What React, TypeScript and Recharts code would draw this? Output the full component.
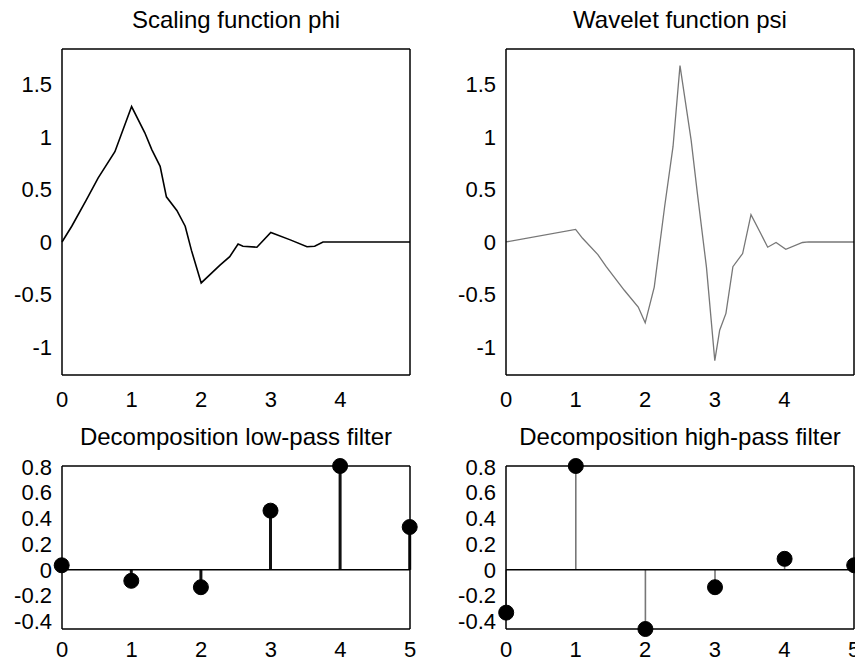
import React from 'react';
import { LineChart, ComposedChart, Line, Bar, XAxis, YAxis, ReferenceLine } from 'recharts';

// Scaling function phi (db3)
const phiX = [0, 0.14, 0.35, 0.52, 0.76, 1.0, 1.19, 1.29, 1.41, 1.5, 1.65, 1.77, 1.86, 2.0, 2.27, 2.41, 2.53, 2.6, 2.8, 3.0, 3.28, 3.52, 3.63, 3.75, 5.0];
const phiY = [0, 0.15, 0.4, 0.61, 0.86, 1.29, 1.04, 0.88, 0.72, 0.43, 0.3, 0.15, -0.08, -0.39, -0.22, -0.14, -0.02, -0.04, -0.05, 0.09, 0.02, -0.045, -0.04, 0, 0];

// Wavelet function psi
const psiX = [0, 1.0, 1.1, 1.32, 1.44, 1.7, 1.9, 2.0, 2.13, 2.28, 2.4, 2.5, 2.66, 2.75, 2.88, 3.0, 3.07, 3.16, 3.26, 3.4, 3.52, 3.66, 3.76, 3.88, 4.02, 4.26, 4.35, 5.0];
const psiY = [0, 0.12, 0.035, -0.12, -0.235, -0.46, -0.62, -0.77, -0.43, 0.34, 0.91, 1.68, 0.97, 0.46, -0.24, -1.13, -0.84, -0.68, -0.235, -0.11, 0.26, 0.08, -0.05, -0.005, -0.07, -0.005, 0, 0];

// Filters
const filterIdx = [0, 1, 2, 3, 4, 5];
const lowPass = [0.0352, -0.0854, -0.135, 0.4599, 0.8069, 0.3327];
const highPass = [-0.3327, 0.8069, -0.4599, -0.135, 0.0854, 0.0352];

// Axes
const topXTicks = [0, 1, 2, 3, 4];
const topYTicks = [-1, -0.5, 0, 0.5, 1, 1.5];
const topXDomain = [0, 5];
const topYDomain = [-1.267, 1.838];
const botXTicks = [0, 1, 2, 3, 4, 5];
const botYTicks = [-0.4, -0.2, 0, 0.2, 0.4, 0.6, 0.8];
const botXDomain = [0, 5];
const botYDomain = [-0.4599, 0.8069];

const titles = ['Scaling function phi', 'Wavelet function psi', 'Decomposition low-pass filter', 'Decomposition high-pass filter'];

const phiData = phiX.map((x, i) => ({ x, y: phiY[i] }));
const psiData = psiX.map((x, i) => ({ x, y: psiY[i] }));
const lowData = filterIdx.map((x, i) => ({ x, v: lowPass[i] }));
const highData = filterIdx.map((x, i) => ({ x, v: highPass[i] }));

const FONT = '"Liberation Sans", Arial, Helvetica, sans-serif';
const tickStyle = { fill: '#000', fontSize: 22, fontFamily: FONT };
const axisLineStyle = { stroke: '#000', strokeWidth: 1.5 };
const tickLineStyle = { stroke: '#000', strokeWidth: 1.2 };

function frame(xDomain: number[], xTicks: number[], yDomain: number[], yTicks: number[], xHeight: number, xMargin: number, dk: string) {
  return [
    <XAxis key="xb" xAxisId={0} type="number" dataKey="x" domain={xDomain} ticks={xTicks} interval={0}
      tickLine={false} tickSize={0} tickMargin={xMargin} axisLine={axisLineStyle} tick={tickStyle} height={xHeight} />,
    <YAxis key="yl" yAxisId={0} type="number" domain={yDomain} ticks={yTicks} interval={0}
      tickLine={false} tickSize={0} tickMargin={10} axisLine={axisLineStyle} tick={tickStyle} width={62} />,
    <XAxis key="xt" xAxisId="t" orientation="top" mirror type="number" dataKey="x" domain={xDomain} ticks={xTicks} interval={0} allowDataOverflow
      tick={false} tickLine={tickLineStyle} tickSize={5} axisLine={axisLineStyle} height={1} />,
    <XAxis key="xb2" xAxisId="b2" orientation="bottom" mirror type="number" dataKey="x" domain={xDomain} ticks={xTicks} interval={0} allowDataOverflow
      tick={false} tickLine={tickLineStyle} tickSize={5} axisLine={false} height={1} />,
    <YAxis key="yr" yAxisId="r" orientation="right" mirror type="number" domain={yDomain} ticks={yTicks} interval={0} allowDataOverflow
      tick={false} tickLine={tickLineStyle} tickSize={5} axisLine={axisLineStyle} width={1} />,
    <YAxis key="yl2" yAxisId="l2" orientation="left" mirror type="number" domain={yDomain} ticks={yTicks} interval={0} allowDataOverflow
      tick={false} tickLine={tickLineStyle} tickSize={5} axisLine={false} width={1} />,
    <Line key="h1" xAxisId="t" yAxisId="r" dataKey={dk} stroke="none" dot={false} activeDot={false} isAnimationActive={false} legendType="none" />,
    <Line key="h2" xAxisId="b2" yAxisId="l2" dataKey={dk} stroke="none" dot={false} activeDot={false} isAnimationActive={false} legendType="none" />,
  ];
}

function makeStem(color: string, w: number) {
  return (props: any) => {
    const { x, y, width, height, payload } = props;
    if (x == null || y == null) return null;
    const cx = x + (width || 0) / 2;
    const y1 = y;
    const y2 = y + (height || 0);
    const v = payload ? payload.v : 0;
    const my = v >= 0 ? Math.min(y1, y2) : Math.max(y1, y2);
    return (
      <g>
        <line x1={cx} x2={cx} y1={y1} y2={y2} stroke={color} strokeWidth={w} />
        <circle cx={cx} cy={my} r={7.5} fill="#000" stroke="#000" />
      </g>
    );
  };
}

export default function App() {
  return (
    <div style={{ position: 'absolute', left: 0, top: 0, width: 855, height: 661, background: '#fff', overflow: 'hidden' }}>
      <div style={{ position: 'absolute', left: 0, top: 0 }}>
        <LineChart width={430} height={420} data={phiData} margin={{ top: 49, right: 20, bottom: 0, left: 0 }}>
          {frame(topXDomain, topXTicks, topYDomain, topYTicks, 45, 16, 'y')}
          <Line type="linear" dataKey="y" stroke="#000" strokeWidth={1.6} dot={false} isAnimationActive={false} />
        </LineChart>
      </div>
      <div style={{ position: 'absolute', left: 444, top: 0 }}>
        <LineChart width={411} height={420} data={psiData} margin={{ top: 49, right: 1, bottom: 0, left: 0 }}>
          {frame(topXDomain, topXTicks, topYDomain, topYTicks, 45, 16, 'y')}
          <Line type="linear" dataKey="y" stroke="#777" strokeWidth={1.3} dot={false} isAnimationActive={false} />
        </LineChart>
      </div>
      <div style={{ position: 'absolute', left: 0, top: 420 }}>
        <ComposedChart width={430} height={241} data={lowData} margin={{ top: 46, right: 20, bottom: 0, left: 0 }}>
          {frame(botXDomain, botXTicks, botYDomain, botYTicks, 32, 12, 'v')}
          <ReferenceLine y={0} stroke="#000" strokeWidth={1.5} />
          <Bar dataKey="v" barSize={3} shape={makeStem('#111', 3)} isAnimationActive={false} />
        </ComposedChart>
      </div>
      <div style={{ position: 'absolute', left: 444, top: 420 }}>
        <ComposedChart width={411} height={241} data={highData} margin={{ top: 46, right: 1, bottom: 0, left: 0 }}>
          {frame(botXDomain, botXTicks, botYDomain, botYTicks, 32, 12, 'v')}
          <ReferenceLine y={0} stroke="#000" strokeWidth={1.5} />
          <Bar dataKey="v" barSize={2} shape={makeStem('#777', 1.6)} isAnimationActive={false} />
        </ComposedChart>
      </div>
      <svg width={855} height={661} style={{ position: 'absolute', left: 0, top: 0, pointerEvents: 'none' }}>
        <text x={236} y={28} textAnchor="middle" fontSize={24} fontFamily={FONT} fill="#000">{titles[0]}</text>
        <text x={680} y={28} textAnchor="middle" fontSize={24} fontFamily={FONT} fill="#000">{titles[1]}</text>
        <text x={236} y={445} textAnchor="middle" fontSize={24} fontFamily={FONT} fill="#000">{titles[2]}</text>
        <text x={680} y={445} textAnchor="middle" fontSize={24} fontFamily={FONT} fill="#000">{titles[3]}</text>
      </svg>
    </div>
  );
}
